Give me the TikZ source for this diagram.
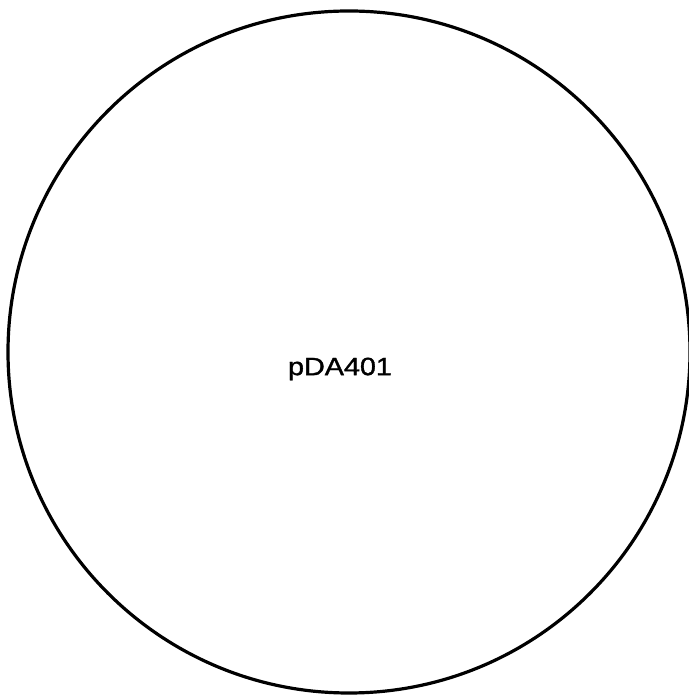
\documentclass[tikz,border=0pt]{standalone}
\usepackage{fontspec}
\setmainfont{Liberation Sans}
\newfontfamily\labelfont[FakeBold=1.2]{Liberation Sans}
\usepackage{tikz}

\begin{document}
\begin{tikzpicture}[x=1pt,y=1pt]
\useasboundingbox (0,0) rectangle (688,698);
\node[circle,draw,line width=3.2pt,minimum size=682pt,inner sep=0pt] (ring) at (349,346) {};
\node[xscale=1.15,font=\labelfont\fontsize{25}{30}\selectfont] (name) at (340,329) {pDA401};
\end{tikzpicture}
\end{document}
